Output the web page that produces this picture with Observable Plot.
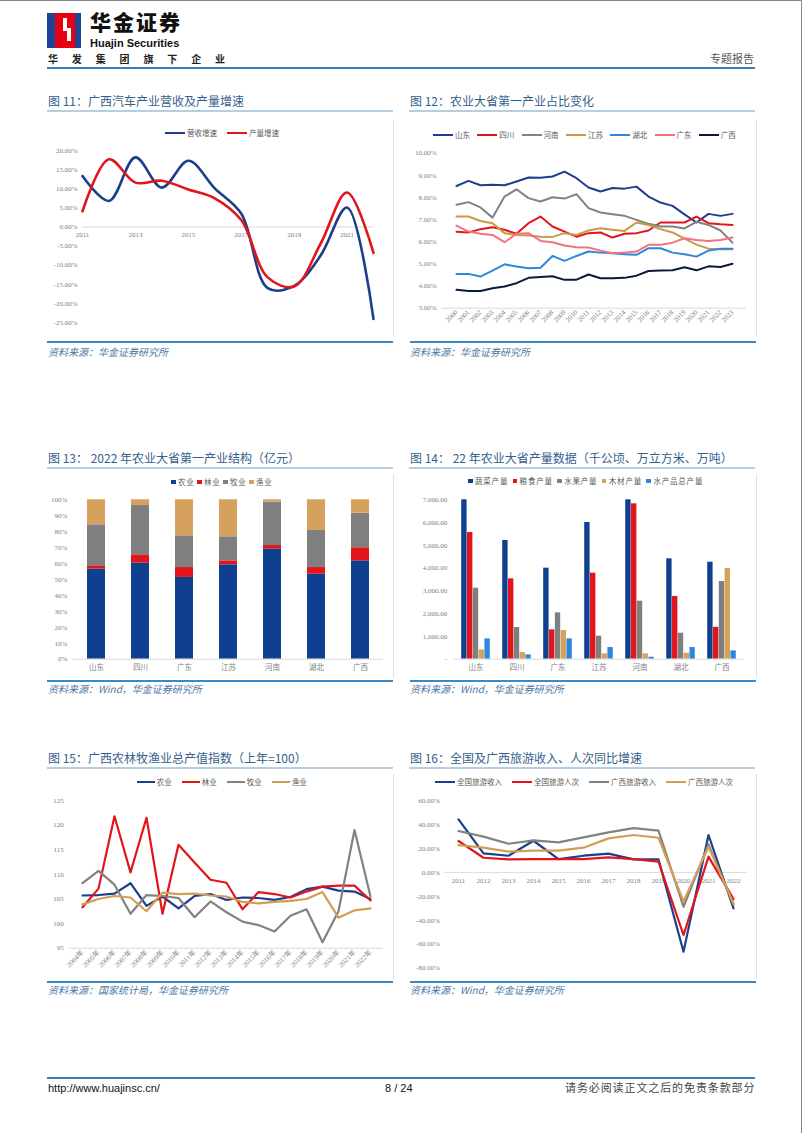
<!DOCTYPE html>
<html><head><meta charset="utf-8">
<script src="https://cdn.jsdelivr.net/npm/d3@7"></script>
<script src="https://cdn.jsdelivr.net/npm/@observablehq/plot@0.6"></script>
<style>
body{margin:0;background:#fff;}
#page{position:relative;width:802px;height:1133px;overflow:hidden;background:#fff;font-family:"Noto Sans CJK SC","Noto Sans",sans-serif;box-sizing:border-box;border-top:1px solid #8a8a8a;border-right:1px solid #8a8a8a;}
.abs{position:absolute;}
.title{font-size:12px;line-height:12px;color:#36608c;white-space:nowrap;}
.src{font-size:10px;line-height:10px;color:#4a78a6;font-style:italic;white-space:nowrap;}
.leg{font-size:7.5px;line-height:12px;height:12px;color:#595959;white-space:nowrap;display:flex;align-items:center;}
.chart svg{overflow:visible;display:block;}
</style>
</head><body><div id="page"></div>
<script>
// ---------------- DATA ----------------
// Fig 11
const years11 = [2011,2012,2013,2014,2015,2016,2017,2018,2019,2020,2021,2022];
const xLabels11 = [2011,2013,2015,2017,2019,2021];
const rev11 = [13.3,6.8,18.2,10.3,17.3,10.1,3.5,-16.0,-15.4,-7.5,5.1,-24.1];   // 营收增速
const out11 = [4.1,17.7,11.6,12.1,9.8,7.5,1.8,-13.2,-15.6,-4.4,9.0,-6.8];      // 产量增速
const series11 = ["营收增速","产量增速"];
// Fig 12
const years12 = ["2000","2001","2002","2003","2004","2005","2006","2007","2008","2009","2010","2011","2012","2013","2014","2015","2016","2017","2018","2019","2020","2021","2022","2023"];
const names12 = ["山东","四川","河南","江苏","湖北","广东","广西"];
const sd12 = [8.52,8.75,8.55,8.57,8.55,8.72,8.90,8.89,8.95,9.17,8.87,8.45,8.27,8.43,8.40,8.49,8.04,7.77,7.62,7.24,6.87,7.26,7.17,7.26];
const sc12 = [6.45,6.42,6.57,6.66,6.54,6.36,6.84,7.14,6.69,6.46,6.23,6.39,6.42,6.19,6.36,6.39,6.51,6.87,6.87,6.87,7.14,6.84,6.79,6.76];
const hn12 = [7.67,7.79,7.55,7.09,8.04,8.37,7.97,7.82,8.01,7.95,8.15,7.52,7.32,7.24,7.17,6.99,6.81,6.69,6.69,6.60,6.90,6.76,6.51,5.96];
const js12 = [7.14,7.14,6.94,6.84,6.39,6.31,6.28,6.23,6.22,6.39,6.31,6.51,6.61,6.54,6.49,6.87,6.76,6.57,6.42,6.14,5.87,5.69,5.66,5.66];
const hb12 = [4.55,4.55,4.43,4.70,4.98,4.88,4.80,4.83,5.36,5.14,5.36,5.56,5.51,5.48,5.44,5.41,5.71,5.71,5.51,5.44,5.33,5.60,5.68,5.68];
const gd12 = [6.73,6.46,6.36,6.31,5.98,6.36,6.39,6.04,5.98,5.83,5.75,5.74,5.60,5.48,5.51,5.56,5.86,5.86,5.96,6.16,6.08,6.04,6.08,6.19];
const gx12 = [3.83,3.78,3.78,3.90,3.98,4.13,4.37,4.41,4.44,4.28,4.29,4.52,4.35,4.35,4.37,4.47,4.68,4.70,4.71,4.85,4.71,4.89,4.86,5.01];
// Fig 13
const provinces = ["山东","四川","广东","江苏","河南","湖北","广西"];
const cats13 = ["农业","林业","牧业","渔业"];
const agri13 = [56.5,60.3,51.3,59.2,69.0,53.3,61.7];
const forest13 = [2.1,5.2,6.2,2.5,2.3,4.2,8.2];
const animal13 = [25.7,30.9,19.9,15.1,27.2,23.3,21.7];
const fish13 = [15.7,3.6,22.6,23.2,1.5,19.2,8.4];
// Fig 14
const cats14 = ["蔬菜产量","粮食产量","水果产量","木材产量","水产品总产量"];
const veg14 = [7000,5212,3997,6003,7000,4407,4260];
const grain14 = [5563,3528,1288,3777,6823,2752,1400];
const fruit14 = [3119,1391,2035,1010,2547,1142,3411];
const wood14 = [410,293,1259,234,234,264,3982];
const aqua14 = [893,190,893,512,88,512,366];
// Fig 15
const years15 = ["2004年","2005年","2006年","2007年","2008年","2009年","2010年","2011年","2012年","2013年","2014年","2015年","2016年","2017年","2018年","2019年","2020年","2021年","2022年"];
const names15 = ["农业","林业","牧业","渔业"];
const ny15 = [105.7,105.8,106.1,108.2,103.6,105.5,103.1,105.6,106.0,104.8,105.3,105.2,104.8,105.4,107.0,107.5,106.7,106.5,105.0];
const ly15 = [103.3,107.1,121.8,110.4,121.5,102.0,116.0,112.4,108.9,108.3,102.9,106.4,106.0,105.3,106.5,107.5,107.7,107.7,104.7];
const my15 = [108.2,110.7,107.9,102.0,105.8,105.6,105.2,101.3,104.5,102.3,100.4,99.7,98.4,101.6,102.9,96.2,102.5,119.0,105.5];
const yy15 = [103.9,105.0,105.6,105.3,102.5,106.3,106.0,106.1,105.7,105.5,104.4,104.1,104.4,104.6,105.0,106.4,101.2,102.7,103.1];
// Fig 16
const years16 = ["2011","2012","2013","2014","2015","2016","2017","2018","2019","2020","2021","2022"];
const names16 = ["全国旅游收入","全国旅游人次","广西旅游收入","广西旅游人次"];
const qs16 = [44.2,15.9,13.9,26.4,11.1,13.9,15.6,10.9,10.9,-66.2,31.2,-30.0];
const qr16 = [26.2,12.2,10.9,11.1,11.1,11.1,12.5,11.1,8.9,-52.3,13.1,-22.3];
const gs16 = [34.5,29.8,23.9,26.7,25.0,29.2,33.4,37.0,34.8,-28.7,23.4,-27.3];
const gr16 = [22.8,20.6,17.3,18.1,18.1,20.6,28.4,31.2,28.9,-24.5,21.4,-25.9];

// ---------------- STYLE ----------------
const NAVY="#1b3f8b", RED="#e2141c", GREY="#828282", GOLD="#d29d55", BLUE="#2f86de", PINK="#f1737c", DARK="#0b1a3c";
const AX = {fontSize:"7px", fontFamily:"'Liberation Serif','Noto Sans CJK SC',serif", color:"#7f7f7f", background:"transparent", overflow:"visible"};
const AXC = {...AX, fontFamily:"'Noto Sans CJK SC',sans-serif", fontSize:"7.5px"};
const pct2 = d => d.toFixed(2) + "%";

// ---------------- PAGE HELPERS ----------------
const page = document.getElementById("page");
function div(cls, x, y, html, st){
  const d = document.createElement("div");
  d.className = "abs " + (cls||"");
  d.style.left = x + "px"; d.style.top = y + "px";
  if (html != null) d.innerHTML = html;
  if (st) Object.assign(d.style, st);
  page.appendChild(d); return d;
}
function rect(x,y,w,h,c){ return div("",x,y,null,{width:w+"px",height:h+"px",background:c}); }
function mount(el,x,y){ const d = div("chart",x,y); d.appendChild(el); }
function lineLegend(labels, colors, x0, step, y, lw){
  labels.forEach((l,i)=>div("leg", x0+i*step, y-6,
    `<span style="display:inline-block;width:${lw}px;height:2.5px;background:${colors[i]};margin-right:2px"></span>${l}`));
}
function boxLegend(labels, colors, x0, step, y){
  labels.forEach((l,i)=>div("leg", x0+i*step, y-6,
    `<span style="display:inline-block;width:4.5px;height:4.5px;background:${colors[i]};margin-right:2.5px"></span><span style="letter-spacing:0.8px">${l}</span>`));
}

// ---------------- HEADER ----------------
rect(47,12,34,35,"#1d4595");
rect(55,12,20,35,"#e60012");
rect(63,17,4,12,"#fff"); rect(63,27,8,3,"#fff"); rect(67,27,4,13,"#fff");
div("",90,10,"华金证券",{fontSize:"21px",fontWeight:"900",lineHeight:"21px",color:"#111",whiteSpace:"nowrap",letterSpacing:"2px"});
div("",90,37,"Huajin Securities",{fontSize:"11px",fontWeight:"700",fontFamily:"'Liberation Sans',Arial,sans-serif",color:"#111",lineHeight:"11px",whiteSpace:"nowrap"});
div("",48,52,"华 发 集 团 旗 下 企 业",{fontSize:"10px",fontWeight:"700",letterSpacing:"5.8px",color:"#222",lineHeight:"11px",whiteSpace:"nowrap"});
div("",710,52,"专题报告",{fontSize:"11px",color:"#555",lineHeight:"11px",whiteSpace:"nowrap"});
rect(47,66,708,2,"#3d80ad");

// ---------------- SECTION FRAMES ----------------
const T = [
  [48,94,"图 11：广西汽车产业营收及产量增速"],
  [410,94,"图 12：农业大省第一产业占比变化"],
  [48,451,"图 13： 2022 年农业大省第一产业结构（亿元）"],
  [410,451,"图 14： 22 年农业大省产量数据（千公顷、万立方米、万吨）"],
  [48,751,"图 15：广西农林牧渔业总产值指数（上年=100）"],
  [410,751,"图 16：全国及广西旅游收入、人次同比增速"]];
T.forEach(([x,y,t])=>{
  div("title",x,y,t);
  rect(x-1,y+15,346,2,"#b5cee3");
});
[[340,351],[679,688],[980,989]].forEach(([ly,sy],r)=>{
  rect(47,ly,346,2,"#3a8ac6"); rect(410,ly,346,2,"#3a8ac6");
  const srcL = r===0 ? "资料来源：华金证券研究所" : r===1 ? "资料来源：Wind，华金证券研究所" : "资料来源：国家统计局，华金证券研究所";
  const srcR = r===0 ? "资料来源：华金证券研究所" : "资料来源：Wind，华金证券研究所";
  div("src",48,sy-5,srcL); div("src",410,sy-5,srcR);
});
[[393,118,218],[756,118,218],[393,473,204],[756,473,204],[393,773,205],[756,773,205]].forEach(([x,y,h])=>rect(x,y,1,h,"#e2e2e2"));

// ---------------- FOOTER ----------------
rect(47,1076,708,2,"#3d80ad");
div("",48,1081,"http://www.huajinsc.cn/",{fontSize:"11px",fontFamily:"'Liberation Sans',Arial,sans-serif",color:"#111",lineHeight:"12px",whiteSpace:"nowrap"});
div("",385,1081,"8 / 24",{fontSize:"11px",fontFamily:"'Liberation Sans',Arial,sans-serif",color:"#111",lineHeight:"12px",whiteSpace:"nowrap"});
div("",565,1080,"请务必阅读正文之后的免责条款部分",{fontSize:"11px",letterSpacing:"0.9px",color:"#444",lineHeight:"12px",whiteSpace:"nowrap"});

// ---------------- FIG 11 ----------------
{
  const data = years11.flatMap((y,i)=>[{year:y,v:rev11[i],s:series11[0]},{year:y,v:out11[i],s:series11[1]}]);
  const p = Plot.plot({
    width:355,height:215,marginLeft:42,marginRight:22,marginTop:34,marginBottom:9,
    style:AX,
    x:{domain:[2011,2022],axis:null},
    y:{domain:[-25,20]},
    color:{domain:series11,range:[NAVY,RED]},
    marks:[
      Plot.axisY({ticks:d3.range(-25,21,5),tickFormat:pct2,tickSize:0,tickPadding:5,label:null}),
      Plot.ruleY([0],{stroke:"#d9d9d9"}),
      Plot.text(xLabels11,{x:d=>d,y:0,dy:8,text:d=>String(d),fill:"#7f7f7f"}),
      Plot.line(data,{x:"year",y:"v",stroke:"s",z:"s",curve:"catmull-rom",strokeWidth:2.6})
    ]});
  mount(p,40,115);
  lineLegend(series11,[NAVY,RED],165,62,132,20);
}

// ---------------- FIG 12 ----------------
{
  const vals = [sd12,sc12,hn12,js12,hb12,gd12,gx12];
  const cols = [NAVY,RED,GREY,"#c99a45",BLUE,PINK,DARK];
  const data = names12.flatMap((n,j)=>years12.map((y,i)=>({year:y,v:vals[j][i],s:n})));
  const p = Plot.plot({
    width:355,height:220,marginLeft:36,marginRight:14,marginTop:36.7,marginBottom:28.3,
    style:AX,
    x:{type:"point",domain:years12,padding:0.5},
    y:{domain:[3,10]},
    color:{domain:names12,range:cols},
    marks:[
      Plot.axisY({ticks:d3.range(3,11),tickFormat:pct2,tickSize:0,tickPadding:5,label:null}),
      Plot.axisX({tickRotate:-45,tickSize:0,tickPadding:3,label:null}),
      Plot.ruleY([3],{stroke:"#d9d9d9"}),
      Plot.line(data,{x:"year",y:"v",stroke:"s",z:"s",strokeWidth:2})
    ]});
  mount(p,405,115);
  lineLegend(names12,cols,433,44.3,134,20);
}

// ---------------- FIG 13 ----------------
{
  const vals = [agri13,forest13,animal13,fish13];
  const cols = ["#0f3f8f",RED,"#7f7f7f","#d6a15c"];
  const data = provinces.flatMap((p,i)=>cats13.map((c,j)=>({p,t:c,v:vals[j][i]})));
  const p = Plot.plot({
    width:355,height:205,marginLeft:31.8,marginRight:12,marginTop:28.3,marginBottom:17.3,
    style:AXC,
    x:{domain:provinces,paddingInner:0.6,paddingOuter:0.3},
    y:{domain:[0,100]},
    color:{domain:cats13,range:cols},
    marks:[
      Plot.axisY({ticks:d3.range(0,101,10),tickFormat:d=>d+"%",tickSize:0,tickPadding:5,label:null,fontFamily:"'Liberation Serif',serif",fontSize:7}),
      Plot.axisX({tickSize:0,tickPadding:5,label:null}),
      Plot.barY(data,{x:"p",y:"v",fill:"t"}),
      Plot.ruleY([0],{stroke:"#d9d9d9"})
    ]});
  mount(p,40,470);
  boxLegend(cats13,cols,171,26,481);
}

// ---------------- FIG 14 ----------------
{
  const vals = [veg14,grain14,fruit14,wood14,aqua14];
  const cols = ["#0f3f8f",RED,"#7f7f7f","#d6a15c",BLUE];
  const W=355, ML=48.3, MR=16.7;
  const bw = (W-ML-MR)/provinces.length, groupW = 29, bar = groupW/cats14.length, pad = (bw-groupW)/2;
  const fmt = d3.format(",.2f");
  const p = Plot.plot({
    width:W,height:205,marginLeft:ML,marginRight:MR,marginTop:28.3,marginBottom:17.3,
    style:AXC,
    x:{domain:provinces,padding:0},
    y:{domain:[0,7000]},
    marks:[
      Plot.axisY({ticks:d3.range(0,7001,1000),tickFormat:d=>d===0?"-":fmt(d),tickSize:0,tickPadding:6.6,label:null,fontFamily:"'Liberation Serif',serif",fontSize:7}),
      Plot.axisX({tickSize:0,tickPadding:5,label:null}),
      ...cats14.map((c,j)=>Plot.barY(provinces.map((pv,i)=>({p:pv,v:vals[j][i]})),
        {x:"p",y:"v",fill:cols[j],insetLeft:pad+j*bar,insetRight:bw-pad-(j+1)*bar})),
      Plot.ruleY([0],{stroke:"#d9d9d9"})
    ]});
  mount(p,405,470);
  boxLegend(cats14,cols,468,44.6,480);
}

// ---------------- FIG 15 ----------------
{
  const vals = [ny15,ly15,my15,yy15];
  const cols = [NAVY,RED,GREY,GOLD];
  const data = names15.flatMap((n,j)=>years15.map((y,i)=>({year:y,v:vals[j][i],s:n})));
  const p = Plot.plot({
    width:355,height:205,marginLeft:28.3,marginRight:12,marginTop:29,marginBottom:28.3,
    style:AX,
    x:{type:"point",domain:years15,padding:0.5},
    y:{domain:[95,125]},
    color:{domain:names15,range:cols},
    marks:[
      Plot.axisY({ticks:d3.range(95,126,5),tickSize:0,tickPadding:5,label:null}),
      Plot.axisX({tickRotate:-45,tickSize:0,tickPadding:3,label:null}),
      Plot.ruleY([95],{stroke:"#d9d9d9"}),
      Plot.ruleY([100],{x1:years15[0],x2:years15[years15.length-1],stroke:"#333",strokeWidth:1.6,strokeDasharray:"2.4,2.4"}),
      Plot.line(data,{x:"year",y:"v",stroke:"s",z:"s",strokeWidth:2.2})
    ]});
  mount(p,40,770);
  lineLegend(names15,cols,136.7,45,781,18);
}

// ---------------- FIG 16 ----------------
{
  const vals = [qs16,qr16,gs16,gr16];
  const cols = [NAVY,RED,GREY,GOLD];
  const data = names16.flatMap((n,j)=>years16.map((y,i)=>({year:y,v:vals[j][i],s:n})));
  const p = Plot.plot({
    width:355,height:205,marginLeft:39.3,marginRight:13.3,marginTop:29,marginBottom:8.3,
    style:AX,
    x:{type:"point",domain:years16,padding:0.5,axis:null},
    y:{domain:[-80,60]},
    color:{domain:names16,range:cols},
    marks:[
      Plot.axisY({ticks:d3.range(-80,61,20),tickFormat:pct2,tickSize:0,tickPadding:5,label:null}),
      Plot.ruleY([0],{stroke:"#d9d9d9"}),
      Plot.text(years16,{x:d=>d,y:0,dy:8,text:d=>d,fill:"#7f7f7f"}),
      Plot.line(data,{x:"year",y:"v",stroke:"s",z:"s",strokeWidth:2.2})
    ]});
  mount(p,405,770);
  lineLegend(names16,cols,435,77,781,20);
}
</script>
</body></html>
